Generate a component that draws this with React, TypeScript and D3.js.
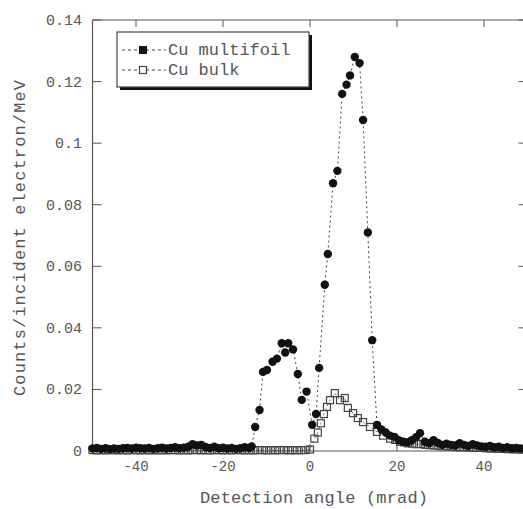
import React from "react";
import * as d3 from "d3";

const multiX = [
  -50, -49, -48, -47, -46, -45, -44, -43, -42, -41, -40, -39, -38, -37, -36, -35, -34, -33, -32, -31,
  -30, -29, -28, -27, -26, -25, -24, -23, -22, -21, -20, -19, -18, -17, -16, -15, -14, -13.4,
  -12.6, -11.6, -10.8, -9.9, -8.6, -7.6, -6.5, -5.7, -5.0, -3.9, -2.8, -1.9, -0.8, 0.5, 1.4, 2.1,
  3.4, 4.1, 5.3, 6.3, 7.4, 8.4, 9.2, 10.3, 11.4, 12.2, 13.3, 14.3,
  15.4, 16.4, 17.4, 18.4, 19.4, 20.4, 21.4, 22.4, 23.4, 24.4, 25.3, 26.4, 27.4, 28.4, 29.4, 30.4,
  31.4, 32.4, 33.4, 34.4, 35.4, 36.4, 37.4, 38.4, 39.4, 40.4, 41.4, 42.4, 43.4, 44.4, 45.4, 46.4,
  47.4, 48.4, 49.4,
];
const multiY = [
  0.0008, 0.001, 0.0007, 0.0009, 0.0006, 0.0008, 0.0007, 0.0009, 0.001, 0.0008, 0.0011, 0.0009, 0.0008, 0.001, 0.0007, 0.0009, 0.0011, 0.0008, 0.001, 0.0012,
  0.0009, 0.0011, 0.0014, 0.0022, 0.0018, 0.002, 0.0013, 0.001, 0.0014, 0.0009, 0.0011, 0.0008, 0.001, 0.0007, 0.0009, 0.0012, 0.001, 0.0015,
  0.0078, 0.0133, 0.0257, 0.0263, 0.029, 0.03, 0.035, 0.032, 0.035, 0.033, 0.025, 0.0166, 0.0193, 0.0085, 0.012, 0.027,
  0.054, 0.064, 0.087, 0.091, 0.116, 0.119, 0.122, 0.128, 0.126, 0.1075, 0.071, 0.036,
  0.0085, 0.007, 0.006, 0.005, 0.0046, 0.0035, 0.003, 0.0028, 0.0035, 0.0045, 0.0058, 0.003, 0.0025, 0.0035, 0.0026, 0.002,
  0.0024, 0.002, 0.0018, 0.0025, 0.002, 0.0016, 0.0022, 0.0018, 0.0015, 0.0014, 0.0016, 0.0012, 0.0014, 0.001, 0.0012, 0.0009,
  0.001, 0.0008, 0.0009,
];

const bulkX = [
  -50, -49, -48, -47, -46, -45, -44, -43, -42, -41, -40, -39, -38, -37, -36, -35, -34, -33, -32, -31,
  -30, -29, -28, -27, -26, -25, -24, -23, -22, -21, -20, -19, -18, -17, -16, -15, -14, -13, -12, -11,
  -10, -9, -8, -7, -6, -5, -4, -3, -2, -1, 0, 1.0, 1.8, 2.5, 3.2, 3.9, 4.6, 5.7, 6.9, 8.0, 8.7, 9.9,
  11.0, 12.2, 13.8, 15.4, 16.8, 18.4, 19.6, 20.7, 21.6, 22.5, 23.5, 24.5, 25.5, 26.5, 27.5, 28.5, 29.5,
  30.5, 31.5, 32.5, 33.5, 34.5, 35.5, 36.5, 37.5, 38.5, 39.5, 40.5, 41.5, 42.5, 43.5, 44.5, 45.5,
  46.5, 47.5, 48.5, 49.5,
];
const bulkY = [
  0.0003, 0.0002, 0.0003, 0.0002, 0.0003, 0.0003, 0.0002, 0.0003, 0.0002, 0.0003, 0.0003, 0.0002, 0.0003, 0.0002, 0.0003, 0.0002, 0.0003, 0.0002, 0.0003, 0.0003,
  0.0002, 0.0003, 0.0002, 0.0003, 0.0003, 0.0002, 0.0003, 0.0002, 0.0003, 0.0003, 0.0002, 0.0003, 0.0002, 0.0003, 0.0003, 0.0002, 0.0003, 0.0002, 0.0003, 0.0003,
  0.0002, 0.0003, 0.0002, 0.0003, 0.0003, 0.0002, 0.0003, 0.0002, 0.0003, 0.0003, 0.0005, 0.004, 0.006, 0.009, 0.012, 0.0143, 0.0165, 0.0188, 0.0165, 0.0172, 0.014, 0.0123,
  0.0107, 0.0094, 0.0078, 0.0062, 0.005, 0.004, 0.0036, 0.003, 0.0028, 0.0025, 0.0024, 0.0022, 0.0023, 0.002, 0.0019, 0.0018, 0.0017,
  0.0015, 0.0016, 0.0014, 0.0013, 0.0012, 0.0013, 0.0011, 0.001, 0.001, 0.0011, 0.0009, 0.0008, 0.0008, 0.0007, 0.0007, 0.0006,
  0.0006, 0.0005, 0.0005, 0.0004,
];

const xTicks = [-40, -20, 0, 20, 40];
const xTickLabels = ["-40", "-20", "0", "20", "40"];
const yTicks = [0, 0.02, 0.04, 0.06, 0.08, 0.1, 0.12, 0.14];
const yTickLabels = ["0", "0.02", "0.04", "0.06", "0.08", "0.1", "0.12", "0.14"];
const seriesNames = ["Cu multifoil", "Cu bulk"];
const xTitle = "Detection angle (mrad)";
const yTitle = "Counts/incident electron/MeV";

export default function App() {
  const W = 523;
  const H = 509;
  const left = 92.5;
  const right = 527.5;
  const top = 20;
  const bottom = 451;
  const x = d3.scaleLinear().domain([-50, 50]).range([left, right]);
  const y = d3.scaleLinear().domain([0, 0.14]).range([bottom, top]);
  const line = d3
    .line<[number, number]>()
    .x((d) => x(d[0]))
    .y((d) => y(d[1]));
  const multi: [number, number][] = multiX.map((v, i) => [v, multiY[i]]);
  const bulk: [number, number][] = bulkX.map((v, i) => [v, bulkY[i]]);
  const font = "'Liberation Mono', 'DejaVu Sans Mono', monospace";
  const axisColor = "#555";
  const textColor = "#555";
  const tickLen = 7;

  return (
    <svg width={W} height={H} style={{ position: "absolute", left: 0, top: 0, background: "#fff" }}>
      <rect x={0} y={0} width={W} height={H} fill="#fff" />
      {/* frame */}
      <line x1={left} y1={top} x2={left} y2={bottom} stroke={axisColor} strokeWidth={1.2} />
      <line x1={left} y1={top} x2={right} y2={top} stroke={axisColor} strokeWidth={1.2} />
      <line x1={left} y1={bottom} x2={right} y2={bottom} stroke={axisColor} strokeWidth={1.2} />
      <line x1={right} y1={top} x2={right} y2={bottom} stroke={axisColor} strokeWidth={1.2} />
      {xTicks.map((t, i) => (
        <g key={"xt" + i}>
          <line x1={x(t)} x2={x(t)} y1={top} y2={top + tickLen} stroke={axisColor} />
          <line x1={x(t)} x2={x(t)} y1={bottom} y2={bottom - tickLen} stroke={axisColor} />
          <text x={x(t)} y={bottom + 20} textAnchor="middle" fontFamily={font} fontSize={14} fill={textColor}>
            {xTickLabels[i]}
          </text>
        </g>
      ))}
      {yTicks.map((t, i) => (
        <g key={"yt" + i}>
          <line x1={left} x2={left + tickLen + 2} y1={y(t)} y2={y(t)} stroke={axisColor} />
          <line x1={right} x2={right - tickLen - 2} y1={y(t)} y2={y(t)} stroke={axisColor} />
          <text x={82} y={y(t) + 5} textAnchor="end" fontFamily={font} fontSize={15} fill={textColor}>
            {yTickLabels[i]}
          </text>
        </g>
      ))}
      {/* series lines */}
      <path d={line(multi) || ""} fill="none" stroke="#444" strokeWidth={1} strokeDasharray="2,3" />
      <path d={line(bulk) || ""} fill="none" stroke="#666" strokeWidth={1} strokeDasharray="2,3" />
      {/* markers */}
      {bulk.map((d, i) => (
        <rect key={"b" + i} x={x(d[0]) - 3.5} y={y(d[1]) - 3.5} width={7} height={7} fill="none" stroke="#444" strokeWidth={1.2} />
      ))}
      {multi.map((d, i) => (
        <circle key={"m" + i} cx={x(d[0])} cy={y(d[1])} r={4.2} fill="#111" />
      ))}
      {/* legend */}
      <rect x={120} y={35} width={192} height={55} fill="#111" />
      <rect x={117} y={32} width={192} height={55} fill="#fff" stroke="#444" strokeWidth={1.2} />
      <line x1={122} x2={166} y1={50} y2={50} stroke="#444" strokeDasharray="3,3" />
      <rect x={139} y={46} width={8} height={8} fill="#111" />
      <text x={168} y={55} fontFamily={font} fontSize={17} fill={textColor}>
        {seriesNames[0]}
      </text>
      <line x1={122} x2={166} y1={70} y2={70} stroke="#444" strokeDasharray="3,3" />
      <rect x={139.5} y={66.5} width={7} height={7} fill="#fff" stroke="#444" strokeWidth={1.2} />
      <text x={168} y={75} fontFamily={font} fontSize={17} fill={textColor}>
        {seriesNames[1]}
      </text>
      {/* titles */}
      <text x={314} y={503} textAnchor="middle" fontFamily={font} fontSize={17} fill={textColor} textLength={228} lengthAdjust="spacing">
        {xTitle}
      </text>
      <text
        transform={`translate(25, 238) rotate(-90)`}
        textAnchor="middle"
        fontFamily={font}
        fontSize={17}
        fill={textColor}
        textLength={316}
        lengthAdjust="spacing"
      >
        {yTitle}
      </text>
    </svg>
  );
}
